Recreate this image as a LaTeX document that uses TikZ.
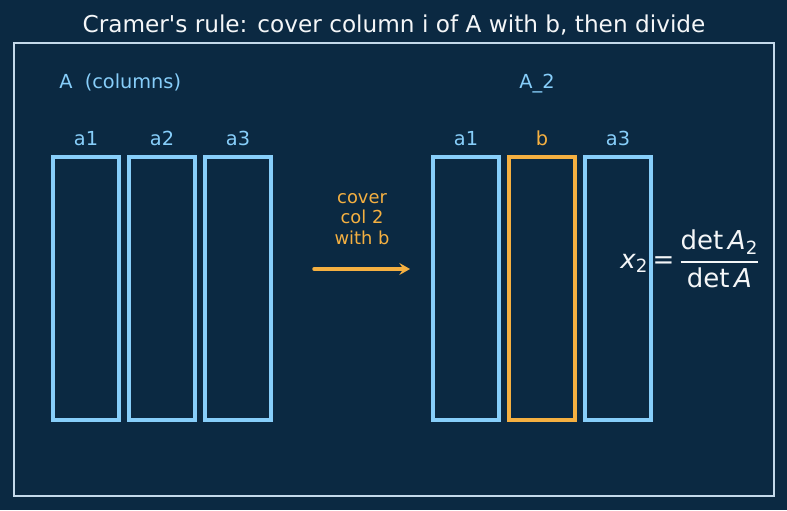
\documentclass[tikz,border=0pt]{standalone}
\usepackage{amsmath}
\usepackage{fontspec}
\setmainfont{DejaVu Sans}[Ligatures=TeXOff]
\usetikzlibrary{arrows.meta, positioning}
\definecolor{bgnavy}{HTML}{0B2942}
\definecolor{framegray}{HTML}{C4D9EA}
\definecolor{colblue}{HTML}{87CEFA}
\definecolor{covorange}{HTML}{F5B041}
\definecolor{titlewhite}{HTML}{F4F6F8}

\begin{document}
\begin{tikzpicture}[
        x=0.75pt, y=-0.75pt,
        colbox/.style = {draw=colblue, line width=2.6pt, minimum width=49.5pt, minimum height=197.25pt, inner sep=0pt},
        hilite/.style = {colbox, draw=covorange},
        collabel/.style = {text=colblue, inner sep=0pt, font=\fontsize{14.5}{17}\selectfont},
        hilabel/.style = {collabel, text=covorange},
        flowarrow/.style = {draw=covorange, line width=2.6pt, line cap=round, -{Stealth[length=8pt, width=9pt, inset=3pt]}}
    ]

        % Background and frame
        \fill[bgnavy] (0,0) rectangle (787,510);
        \draw[framegray, line width=1.1pt] (14,43) rectangle (774,496);

        % Title
        \node (title) [anchor=base, text=titlewhite, inner sep=0pt, font=\fontsize{17.4}{20}\selectfont] at (394,32.5) {Cramer's rule: cover column i of A with b, then divide};

        % Matrix A
        \node (headA) [collabel, anchor=base west] at (59,89) {A~~(columns)};
        \node (a1) [colbox] at (86,288.5) {};
        \node (a2) [colbox] at (162,288.5) {};
        \node (a3) [colbox] at (238,288.5) {};
        \node (labA1) [collabel, above=7pt of a1] {a1};
        \node (labA2) [collabel, above=7pt of a2] {a2};
        \node (labA3) [collabel, above=7pt of a3] {a3};

        % Matrix A_2
        \node (headB) [collabel, anchor=base] at (537,89) {A\_2};
        \node (b1) [colbox] at (466,288.5) {};
        \node (b2) [hilite] at (542,288.5) {};
        \node (b3) [colbox] at (618,288.5) {};
        \node (labB1) [collabel, above=7pt of b1] {a1};
        \node (labB2) [hilabel, above=7pt of b2] {b};
        \node (labB3) [collabel, above=7pt of b3] {a3};

        % Cover step
        \coordinate (arrS) at (314,269);
        \coordinate (arrE) at (410,269);
        \draw [flowarrow] (arrS) -- node[above=17pt, inner sep=0pt, align=center, text=covorange, font=\fontsize{13.4}{15.5}\selectfont] (step) {cover\\col 2\\with b} (arrE);

        % Result
        \node (result) [text=titlewhite, inner sep=0pt, font=\fontsize{19.5}{23}\selectfont] at (690,259)
            {$\textit{x}_{\text{2}}\,\text{=}\,\genfrac{}{}{1.3pt}{0}{\text{det}\,\textit{A}_{\text{2}}}{\text{det}\,\textit{A}}$};

    \end{tikzpicture}
\end{document}
